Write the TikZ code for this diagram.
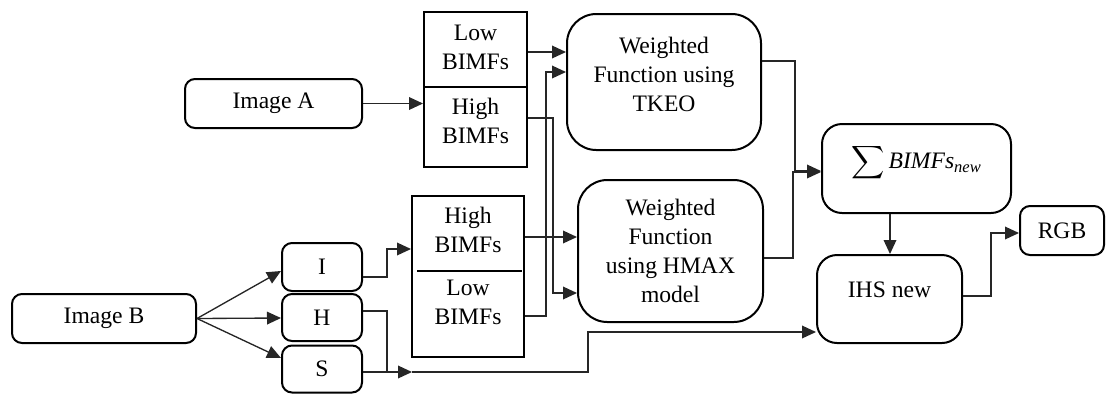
\documentclass[tikz,border=0pt]{standalone}
\usepackage{amsmath}
\usepackage{exscale}
\usepackage{fontspec}
\setmainfont{Liberation Serif}
\usetikzlibrary{arrows.meta}
\begin{document}
\begin{tikzpicture}[x=0.75pt,y=-0.75pt,
  sz/.style 2 args={minimum width=#1*0.75pt,minimum height=#2*0.75pt},
  txt/.style={font=\fontsize{17.7}{21.75}\selectfont,align=center,inner sep=0pt},
  box/.style={draw,line width=1.5pt,rounded corners=7.5pt,inner sep=0pt,txt},
  midbox/.style={draw,line width=1.5pt,rounded corners=15pt,inner sep=0pt,txt},
  bigbox/.style={draw,line width=1.5pt,rounded corners=22pt,inner sep=0pt,txt},
  sqbox/.style={draw,line width=1.5pt,inner sep=0pt},
  conn/.style={line width=1pt,draw=black!85},
  arr/.style={conn,-{Triangle[length=10.5pt,width=9.5pt]}}
]
\useasboundingbox (0,0) rectangle (1106,394);

% nodes
\node[box,sz={177}{49}] (imgA) at (273.5,103.5) {Image A};
\node[box,sz={184}{49}] (imgB) at (104,318.5) {Image B};
\node[box,sz={80}{48}] (I) at (322,267) {I};
\node[box,sz={80}{47}] (H) at (322,317.5) {H};
\node[box,sz={80}{47}] (S) at (322,369) {S};

\node[sqbox,sz={103}{155}] (box1) at (475.5,89.5) {};
\draw[line width=1.5pt] (box1.west |- 0,87) -- (box1.east |- 0,87);
\node[txt] (b1low) at (475.5,47) {Low\\BIMFs};
\node[txt] (b1high) at (475.5,121) {High\\BIMFs};

\node[sqbox,sz={112}{161}] (box2) at (468,276.5) {};
\draw[line width=1.5pt] (417,271) -- (522,271);
\node[txt] (b2high) at (468,230) {High\\BIMFs};
\node[txt] (b2low) at (468,302) {Low\\BIMFs};

\node[bigbox,sz={194}{136}] (tkeo) at (664,82) {};
\node[txt] (tkeoT) at (664,74) {Weighted\\Function using\\TKEO};

\node[bigbox,sz={185}{142}] (hmax) at (670.5,251) {Weighted\\Function\\using HMAX\\model};

\node[midbox,sz={189}{89}] (sum) at (916.5,168.5) {};
\node[txt] (sumT) at (916.5,163) {$\displaystyle\sum \mathit{BIMFs}_{\mathit{new}}$};

\node[midbox,sz={145}{88}] (ihs) at (889.5,299) {};
\node[txt] (ihsT) at (889.5,290) {IHS new};

\node[box,sz={84}{49}] (rgb) at (1062,230.5) {RGB};

% connectors
\draw[arr] (imgA.east) -- (imgA.east -| box1.west);

\draw[arr] (imgB.east) -- (I.west |- 0,271);
\draw[arr] (imgB.east) -- (H.west |- 0,318);
\draw[arr] (imgB.east) -- (S.west |- 0,358);

\draw[arr] (box1.east |- 0,52) -- (tkeo.west |- 0,52);
\draw[arr] (box1.east |- 0,118) -- (553,118) -- (553,293) -- (hmax.west |- 0,293);
\draw[arr] (box2.east |- 0,237) -- (hmax.west |- 0,237);
\draw[arr] (box2.east |- 0,316) -- (546,316) -- (546,72) -- (tkeo.west |- 0,72);

\draw[arr] (I.east |- 0,277) -- (387,277) -- (387,249) -- (box2.west |- 0,249);
\draw[conn] (H.east |- 0,311) -- (387,311) -- (387,372);
\coordinate (smid) at (412,372);
\draw[arr] (S.east |- 0,372) -- (smid);
\draw[arr] (smid) -- (588,372) -- (588,332) -- (ihs.west |- 0,332);

\draw[arr] (tkeo.east |- 0,61) -- (795,61) -- (795,171) -- (sum.west |- 0,171);
\draw[arr] (hmax.east |- 0,258) -- (793,258) -- (793,172) -- (sum.west |- 0,172);

\draw[arr] (sum.south -| 890,0) -- (ihs.north -| 890,0);
\draw[arr] (ihs.east |- 0,296) -- (991,296) -- (991,233) -- (rgb.west |- 0,233);
\end{tikzpicture}
\end{document}
